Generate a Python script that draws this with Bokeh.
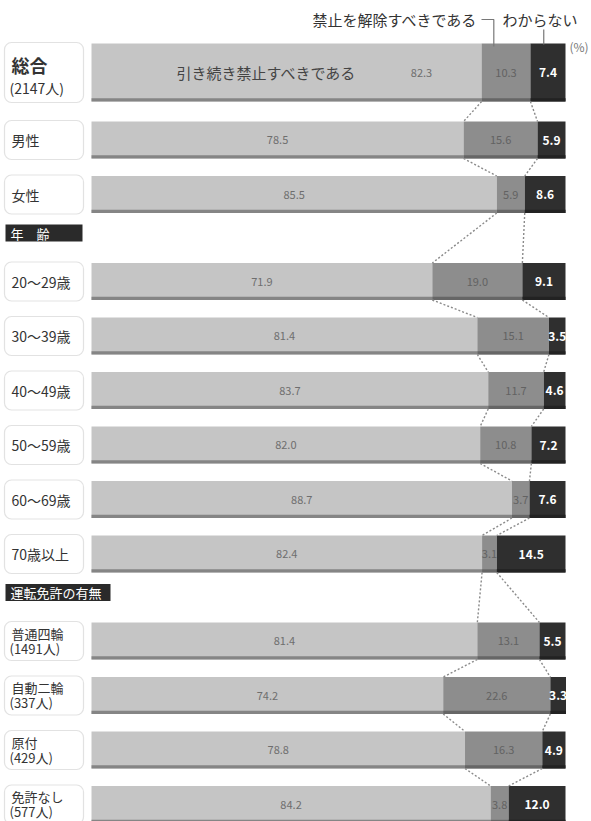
from bokeh.plotting import figure
from bokeh.models import Range1d, BoxAnnotation, ColumnDataSource
from bokeh.core.properties import value
from bokeh.embed import file_html
from bokeh.resources import INLINE

# ---- data (percent) ----
row_main = ["総合", "男性", "女性",
            "20〜29歳", "30〜39歳", "40〜49歳", "50〜59歳", "60〜69歳", "70歳以上",
            "普通四輪", "自動二輪", "原付", "免許なし"]
row_sub = ["(2147人)", "", "",
           "", "", "", "", "", "",
           "(1491人)", "(337人)", "(429人)", "(577人)"]
groups = ["", "", "", "年　齢", "", "", "", "", "", "運転免許の有無", "", "", ""]

keep = [82.3, 78.5, 85.5, 71.9, 81.4, 83.7, 82.0, 88.7, 82.4, 81.4, 74.2, 78.8, 84.2]
lift = [10.3, 15.6, 5.9, 19.0, 15.1, 11.7, 10.8, 3.7, 3.1, 13.1, 22.6, 16.3, 3.8]
unsure = [7.4, 5.9, 8.6, 9.1, 3.5, 4.6, 7.2, 7.6, 14.5, 5.5, 3.3, 4.9, 12.0]

series_names = ["引き続き禁止すべきである", "禁止を解除すべきである", "わからない"]

JP = value("Noto Sans CJK JP")

# ---- layout ----
W, H = 591, 821
X_LEFT_PX, PX_PER_PCT = 91, 4.74


def px(x):
    """pixel column -> percent axis value"""
    return (x - X_LEFT_PX) / PX_PER_PCT


n = len(keep)
centers, heights = [], []
y = 72.0
for i in range(n):
    if i == 0:
        h = 58
    else:
        h = 37
        if groups[i]:
            y += 87
        elif i == 1:
            y += 67.5
        else:
            y += 54.5
    centers.append(y)
    heights.append(h)

tops = [c - h / 2 for c, h in zip(centers, heights)]
bottoms = [c + h / 2 for c, h in zip(centers, heights)]

b1 = keep
b2 = [k + l for k, l in zip(keep, lift)]
b3 = [a + u for a, u in zip(b2, unsure)]

p = figure(width=W, height=H,
           x_range=Range1d(px(0), px(W)), y_range=Range1d(H, 0),
           x_axis_type=None, y_axis_type=None,
           min_border=0, toolbar_location=None, output_backend="svg",
           outline_line_color=None, background_fill_color="white")
p.grid.visible = False

src = ColumnDataSource(dict(y=centers, h=heights, b1=b1, b2=b2, b3=b3,
                            sy=[b - 1.6 for b in bottoms],
                            zero=[0] * n))

LIGHT, MID, DARK = "#c5c5c5", "#8d8d8d", "#2f2f2f"
p.hbar(y="y", height="h", left="zero", right="b1", source=src,
       fill_color=LIGHT, line_color=None)
p.hbar(y="y", height="h", left="b1", right="b2", source=src,
       fill_color=MID, line_color=None)
p.hbar(y="y", height="h", left="b2", right="b3", source=src,
       fill_color=DARK, line_color=None)
# darker lower rim on each segment
p.hbar(y="sy", height=3.2, left="zero", right="b1", source=src,
       fill_color="#858585", line_color=None)
p.hbar(y="sy", height=3.2, left="b1", right="b2", source=src,
       fill_color="#666666", line_color=None)
p.hbar(y="sy", height=3.2, left="b2", right="b3", source=src,
       fill_color="#222222", line_color=None)

# dotted links between segment boundaries of neighbouring bars
for b in (b1, b2):
    p.segment(x0=b[:-1], y0=bottoms[:-1], x1=b[1:], y1=tops[1:],
              line_color="#8a8a8a", line_width=1.4, line_dash="2 2")

# value labels
light_x = [k / 2 for k in keep]
light_x[0] = px(421)
p.text(x=light_x, y=centers, text=[f"{v:.1f}" for v in keep],
       text_font=JP, text_font_size="11px", text_color="#6e6e6e",
       text_align="center", text_baseline="middle")
p.text(x=[(a + b) / 2 for a, b in zip(b1, b2)], y=centers,
       text=[f"{v:.1f}" for v in lift],
       text_font=JP, text_font_size="11px", text_color="#626262",
       text_align="center", text_baseline="middle")
p.text(x=[(a + b) / 2 for a, b in zip(b2, b3)], y=centers,
       text=[f"{v:.1f}" for v in unsure],
       text_font=JP, text_font_size="12px", text_color="white",
       text_font_style="bold", text_align="center", text_baseline="middle")

# series name inside the total bar
p.text(x=[px(266)], y=[centers[0]], text=[series_names[0]],
       text_font=JP, text_font_size="15px", text_color="#444444",
       text_align="center", text_baseline="middle")

# legend leaders above the total bar
p.text(x=[px(477)], y=[19], text=[series_names[1]],
       text_font=JP, text_font_size="15px", text_color="#333333",
       text_align="right", text_baseline="middle")
p.text(x=[px(502)], y=[19], text=[series_names[2]],
       text_font=JP, text_font_size="15px", text_color="#333333",
       text_align="left", text_baseline="middle")
lead1 = b1[0] + lift[0] * 0.25
lead2 = b2[0] + unsure[0] * 0.38
p.line(x=[px(481), lead1, lead1], y=[19, 19, tops[0] + 3],
       line_color="#777777", line_width=1.2)
p.line(x=[lead2, lead2], y=[29, tops[0] + 1],
       line_color="#777777", line_width=1.2)
p.text(x=[px(569)], y=[46], text=["(%)"],
       text_font=JP, text_font_size="12px", text_color="#777777",
       text_align="left", text_baseline="middle")

# row label boxes
for i in range(n):
    p.add_layout(BoxAnnotation(left=px(4), right=px(83),
                               top=tops[i] - 1, bottom=bottoms[i] + 1,
                               fill_color="white", fill_alpha=1,
                               line_color="#a0a0a0", line_width=1.2,
                               border_radius=7, level="underlay"))

one_line = [i for i in range(n) if not row_sub[i]]
two_line = [i for i in range(n) if row_sub[i] and i != 0]
p.text(x=[px(11)] * len(one_line), y=[centers[i] for i in one_line],
       text=[row_main[i] for i in one_line],
       text_font=JP, text_font_size="14px", text_color="#333333",
       text_align="left", text_baseline="middle")
p.text(x=[px(11)] * len(two_line), y=[centers[i] - 8 for i in two_line],
       text=[row_main[i] for i in two_line],
       text_font=JP, text_font_size="13px", text_color="#333333",
       text_align="left", text_baseline="middle")
p.text(x=[px(9)] * len(two_line), y=[centers[i] + 7 for i in two_line],
       text=[row_sub[i] for i in two_line],
       text_font=JP, text_font_size="13px", text_color="#333333",
       text_align="left", text_baseline="middle")
p.text(x=[px(11)], y=[centers[0] - 8], text=[row_main[0]],
       text_font=JP, text_font_size="18px", text_color="#333333",
       text_font_style="bold", text_align="left", text_baseline="middle")
p.text(x=[px(9)], y=[centers[0] + 15], text=[row_sub[0]],
       text_font=JP, text_font_size="14px", text_color="#333333",
       text_align="left", text_baseline="middle")

# section headers (dark bands under white titles)
for i in range(n):
    if groups[i]:
        hy = tops[i] - 30
        width_px = 82 if len(groups[i]) < 4 else 110
        p.add_layout(BoxAnnotation(left=px(5), right=px(width_px),
                                   top=hy - 8.5, bottom=hy + 8.5,
                                   fill_color="#2a2a2a", fill_alpha=1,
                                   line_color=None, level="underlay"))
        p.text(x=[px(10)], y=[hy], text=[groups[i]],
               text_font=JP, text_font_size="13px", text_color="white",
               text_align="left", text_baseline="middle")

open("out.html", "w").write(file_html(p, INLINE))
